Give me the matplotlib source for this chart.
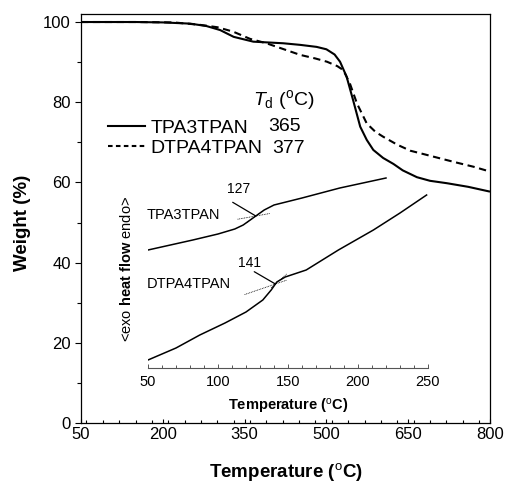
import numpy as np
import matplotlib
matplotlib.use("Agg")
import matplotlib.pyplot as plt
from matplotlib.lines import Line2D
from matplotlib.ticker import MultipleLocator

plt.rcParams["font.family"] = ["Liberation Sans", "DejaVu Sans"]
plt.rcParams["mathtext.fontset"] = "custom"
plt.rcParams["mathtext.rm"] = "Liberation Sans"
plt.rcParams["mathtext.it"] = "Liberation Sans:italic"
plt.rcParams["mathtext.bf"] = "Liberation Sans:bold"

# --- TGA data (weight % vs temperature) ---
names = ["TPA3TPAN", "DTPA4TPAN"]
td_values = [365, 377]

temp_tpa3 = [50, 150, 200, 250, 280, 305, 330, 366, 421, 452, 482, 500, 515,
             525, 537, 549, 562, 574, 586, 604, 623, 640, 666, 690, 721, 760, 800]
weight_tpa3 = [100, 100, 99.9, 99.6, 99.0, 98.0, 96.3, 95.1, 94.7, 94.3, 93.8,
               93.2, 91.9, 90.1, 86.4, 80.5, 73.9, 70.6, 68.1, 66.1, 64.6, 63.0,
               61.3, 60.4, 59.8, 58.9, 57.7]

temp_dtpa4 = [50, 150, 220, 268, 300, 329, 360, 390, 420, 452, 480, 501, 520,
              531, 543, 556, 574, 590, 604, 630, 654, 680, 714, 740, 770, 800]
weight_dtpa4 = [100, 100, 99.9, 99.3, 98.7, 97.6, 95.8, 94.7, 93.3, 91.8, 90.9,
                90.1, 89.0, 88.0, 84.7, 79.7, 74.7, 72.6, 71.4, 69.4, 67.9, 67.0,
                65.8, 64.9, 63.9, 62.7]

# --- DSC data (heat flow, arbitrary units) ---
tg_values = [127, 141]

dsc_t_tpa3 = [50, 66, 82, 100, 112, 118, 126, 133, 140, 150, 160, 187, 220]
dsc_h_tpa3 = [118, 123, 128, 134, 139, 143, 151, 158, 163, 166.5, 170, 180, 190]

dsc_t_dtpa4 = [50, 70, 87, 105, 120, 132, 138, 142, 148, 163, 186, 211, 230, 249]
dsc_h_dtpa4 = [8, 20, 33, 45, 56, 68, 78, 86, 91, 98, 118, 138, 155, 173]

main_xticks = [50, 200, 350, 500, 650, 800]
main_yticks = [0, 20, 40, 60, 80, 100]
inset_xticks = [50, 100, 150, 200, 250]

W, H = 506, 482
fig = plt.figure(figsize=(W / 100, H / 100), dpi=100)

# main TGA axes
ax = fig.add_axes([81 / W, (H - 423) / H, 409 / W, 409 / H])
ax.plot(temp_tpa3, weight_tpa3, color="black", lw=1.5, solid_capstyle="butt")
ax.plot(temp_dtpa4, weight_dtpa4, color="black", lw=1.5, dashes=(3.5, 2.2))
ax.set_xlim(50, 800)
ax.set_ylim(0, 102)
ax.set_xticks(main_xticks)
ax.set_yticks(main_yticks)
ax.xaxis.set_minor_locator(MultipleLocator(30))
ax.yaxis.set_minor_locator(MultipleLocator(10))
ax.tick_params(axis="x", which="major", direction="in", length=3.2, width=0.8,
               labelsize=12, pad=3)
ax.tick_params(axis="x", which="minor", direction="in", length=2.0, width=0.8)
ax.tick_params(axis="y", which="major", direction="out", length=4.3, width=0.8,
               labelsize=12, pad=3)
ax.tick_params(axis="y", which="minor", direction="out", length=2.6, width=0.8)
for s in ax.spines.values():
    s.set_linewidth(0.9)
ax.set_xlabel("Temperature ($^{\\rm o}$C)", fontsize=13.5, fontweight="bold")
ax.set_ylabel("Weight (%)", fontsize=13.5, fontweight="bold")
ax.xaxis.set_label_coords(0.5, -0.092)
ax.yaxis.set_label_coords(-0.122, 0.49)

# legend with decomposition temperatures
handles = [Line2D([], [], color="black", lw=1.5),
           Line2D([], [], color="black", lw=1.5, dashes=(2.2, 1.6))]
ax.legend(handles, names, loc="upper left", bbox_to_anchor=(0.066, 0.743),
          frameon=False, fontsize=14, handlelength=1.9, handletextpad=0.3,
          borderpad=0, borderaxespad=0, labelspacing=0.15)
ax.text(0.457, 0.726, str(td_values[0]), transform=ax.transAxes,
        fontsize=14, va="center", ha="left")
ax.text(0.467, 0.672, str(td_values[1]), transform=ax.transAxes,
        fontsize=14, va="center", ha="left")
ax.text(0.42, 0.79, "$T_{\\rm d}$ ($^{\\rm o}$C)", transform=ax.transAxes,
        fontsize=14, va="center", ha="left")

# inset DSC axes
ax_in = fig.add_axes([148 / W, (H - 368) / H, 280 / W, 198 / H])
ax_in.patch.set_visible(False)
ax_in.plot(dsc_t_tpa3, dsc_h_tpa3, color="black", lw=1.1)
ax_in.plot(dsc_t_dtpa4, dsc_h_dtpa4, color="black", lw=1.1)
ax_in.set_xlim(50, 250)
ax_in.set_ylim(0, 198)
for side in ["top", "right", "left"]:
    ax_in.spines[side].set_visible(False)
ax_in.spines["bottom"].set_linewidth(0.8)
ax_in.spines["bottom"].set_color("#555555")
ax_in.set_yticks([])
ax_in.set_xticks(inset_xticks)
ax_in.xaxis.set_minor_locator(MultipleLocator(10))
ax_in.tick_params(axis="x", which="major", direction="in", length=3.0,
                  width=0.7, labelsize=10.5, pad=5, color="#555555")
ax_in.tick_params(axis="x", which="minor", direction="in", length=2.0,
                  width=0.7, color="#555555")
ax_in.set_xlabel("Temperature ($^{\\rm o}$C)", fontsize=10.5, fontweight="bold")
ax_in.xaxis.set_label_coords(0.5, -0.145)
ax_in.set_ylabel("<exo $\\mathbf{heat\\ flow}$ endo>", fontsize=10.5)
ax_in.yaxis.set_label_coords(-0.05, 0.5)

# glass transition construction lines and labels
tangents = [
    [(0.25, 114, 137), (1.05, 120.5, 130)],
    [(0.48, 119, 149), (1.25, 138, 149)],
]
curves = [(dsc_t_tpa3, dsc_h_tpa3), (dsc_t_dtpa4, dsc_h_dtpa4)]
label_pos = [(49, 153), (49, 84)]
tg_text_pos = [(114.5, 178.7), (122.4, 105.3)]
leader_start = [(110.5, 165.7), (125.9, 96.3)]
for i, tg in enumerate(tg_values):
    t_arr, h_arr = curves[i]
    yk = np.interp(tg, t_arr, h_arr)
    for slope, x0, x1 in tangents[i]:
        xs = np.array([x0, x1])
        ax_in.plot(xs, yk + slope * (xs - tg), color="black", lw=0.6,
                   linestyle=(0, (1, 1)))
    ax_in.annotate("", xy=(tg, yk), xytext=leader_start[i],
                   arrowprops=dict(arrowstyle="-", lw=0.9, color="black",
                                   shrinkA=0, shrinkB=0))
    ax_in.text(*tg_text_pos[i], str(tg), fontsize=10, ha="center", va="center")
    ax_in.text(*label_pos[i], names[i], fontsize=10.5, ha="left", va="center")

fig.savefig("out.png", dpi=100)
